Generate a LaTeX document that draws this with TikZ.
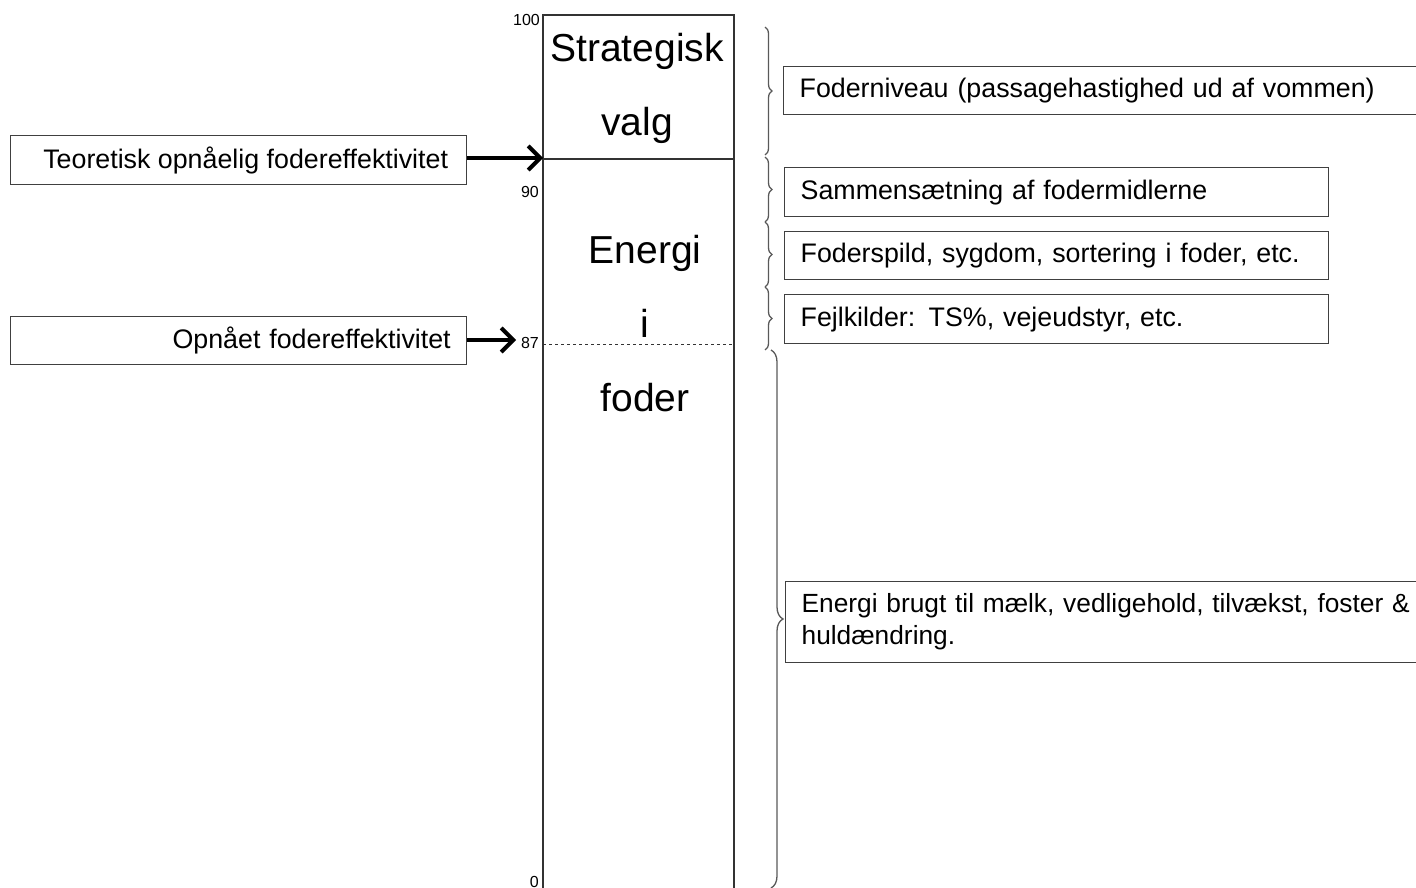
\documentclass[tikz,border=0pt]{standalone}
\usepackage{fontspec}
\setmainfont{Liberation Sans}
\usetikzlibrary{arrows.meta,decorations.pathreplacing}

\tikzset{
  boks/.style={draw=black!75, line width=1.3pt, inner xsep=16pt, inner ysep=0pt,
    anchor=north west, align=left, font=\fontsize{26.8}{32}\selectfont},
  skala/.style={anchor=east, inner sep=1pt, font=\fontsize{16}{16}\selectfont},
  kolonne/.style={align=center, font=\fontsize{39}{74}\selectfont},
  pil/.style={line width=4pt, -{Straight Barb[length=12pt,width=24pt]}},
  klamme/.style={draw=black!65, line width=1.3pt, decorate,
    decoration={brace, amplitude=#1}},
}

\begin{document}
\begin{tikzpicture}[x=1pt, y=-1pt]
	\useasboundingbox (0,0) rectangle (1416,888);

	% Kolonnen
		\draw[black!80, line width=1.3pt] (543,900) -- (543,15) -- (734,15) -- (734,900);
		\draw[black!80, line width=1.3pt] (543,159) -- (734,159);
		\draw[black!80, line width=1pt, dashed] (543,344) -- (734,344);
		\node[kolonne] (strat) at (637,88) {Strategisk\\valg};
		\node[kolonne] (energi) at (645,324) {Energi\\i\\foder};

	% Skalaen
		\node[skala] (s100) at (541,20) {100};
		\node[skala] (s90) at (540,192) {90};
		\node[skala] (s87) at (540,343) {87};
		\node[skala] (s0) at (540,882) {0};

	% Boksene til venstre
		\node[boks, minimum width=456pt, minimum height=49pt, align=center] (teori) at (10,135)
			{\hspace*{14pt}Teoretisk opnåelig fodereffektivitet};
		\node[boks, minimum width=456pt, minimum height=48pt, text width=424pt, align=right] (opnaaet) at (10,316)
			{Opnået fodereffektivitet};
		\coordinate (t90) at (543,158);
		\coordinate (t87) at (516,340);
		\draw[pil] (teori.east |- t90) -- (t90);
		\draw[pil] (opnaaet.east |- t87) -- (t87);

	% Boksene til hoejre
		\node[boks, minimum width=660pt, minimum height=48pt, text width=628pt] (b1) at (783,66)
			{Foderniveau (passagehastighed ud af vommen)};
		\node[boks, minimum width=544pt, minimum height=49pt, text width=512pt] (b2) at (784,167)
			{Sammensætning af fodermidlerne};
		\node[boks, minimum width=544pt, minimum height=48pt, text width=512pt] (b3) at (784,231)
			{Foderspild, sygdom, sortering i foder, etc.};
		\node[boks, minimum width=544pt, minimum height=49pt, text width=512pt] (b4) at (784,294)
			{Fejlkilder: TS\%, vejeudstyr, etc.};
		\node[boks, minimum width=660pt, minimum height=81pt, text width=628pt,
			font=\fontsize{26.3}{32}\selectfont] (b5) at (785,581)
			{Energi brugt til mælk, vedligehold, tilvækst, foster \&\\huldændring.};

	% Klammerne
		\coordinate (k0) at (765,27);
		\coordinate (k1) at (765,155);
		\coordinate (k2) at (765,157);
		\coordinate (k3) at (765,222);
		\coordinate (k4) at (765,287);
		\coordinate (k5) at (765,350);
		\coordinate (k6) at (771,350);
		\coordinate (k7) at (771,888);
		\draw[klamme=7pt] (k0) -- (k1);
		\draw[klamme=7pt] (k2) -- (k3);
		\draw[klamme=7pt] (k3) -- (k4);
		\draw[klamme=7pt] (k4) -- (k5);
		\draw[klamme=12pt] (k6) -- (k7);
\end{tikzpicture}
\end{document}
